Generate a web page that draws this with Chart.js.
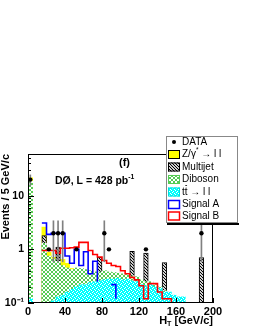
<!DOCTYPE html>
<html>
<head>
<meta charset="utf-8">
<script src="https://cdn.jsdelivr.net/npm/chart.js@4.4.1/dist/chart.umd.min.js"></script>
<style>
  html, body { margin: 0; padding: 0; background: #fff; }
  #box { position: relative; width: 255px; height: 330px; }
</style>
</head>
<body>
<div id="box"><canvas id="htChart" width="255" height="330"></canvas></div>
<script>
// H_T, bins of 5 GeV/c (low edges), last edge 200
const binLow = [0, 5, 10, 15, 20, 25, 30, 35, 40, 45, 50, 55, 60, 65, 70, 75, 80, 85, 90, 95,
                100, 105, 110, 115, 120, 125, 130, 135, 140, 145, 150, 155, 160, 165, 170, 175, 180, 185, 190, 195];
const binWidth = 5;
const lastEdge = 200;

// observed events
const dataCounts = [20, 0, 0, 0, 1, 2, 2, 2, 0, 0, 1, 0, 0, 0, 0, 0, 2, 1, 0, 0,
                    0, 0, 0, 0, 0, 1, 0, 0, 0, 0, 0, 0, 0, 0, 0, 0, 0, 2, 0, 0];

// backgrounds (stacked, bottom to top)
const ttbar    = [0.12, 0, 0, 0.10, 0.10, 0.11, 0.13, 0.14, 0.16, 0.18, 0.20, 0.22, 0.22, 0.24, 0.25, 0.26, 0.27, 0.28, 0.28, 0.29,
                  0.27, 0.28, 0.26, 0.25, 0.22, 0.21, 0.23, 0.20, 0.19, 0.16, 0.16, 0.14, 0.13, 0.13, 0, 0, 0.10, 0.10, 0, 0];
const diboson  = [18.5, 0, 0, 1.2, 0.65, 0.55, 0.47, 0.36, 0.29, 0.24, 0.25, 0.22, 0.20, 0.16, 0.13, 0.12, 0.13, 0.10, 0.09, 0.07,
                  0.08, 0.06, 0.06, 0.06, 0.05, 0.04, 0.02, 0.02, 0.01, 0.01, 0, 0, 0, 0, 0, 0, 0, 0, 0, 0];
const multijet = [0, 0, 0, 0.5, 0, 0, 0.5, 0, 0, 0, 0, 0, 0, 0, 0, 0.33, 0, 0, 0, 0,
                  0, 0, 0.6, 0, 0, 0.6, 0, 0, 0, 0.4, 0, 0, 0, 0, 0, 0, 0, 0.6, 0, 0];
const zJets    = [3.0, 0, 0, 0.8, 0.13, 0.05, 0, 0.15, 0.10, 0.02, 0, 0, 0, 0, 0, 0, 0, 0, 0, 0,
                  0, 0, 0, 0, 0, 0, 0, 0, 0, 0, 0, 0, 0, 0, 0, 0, 0, 0, 0, 0];

// signals (drawn as outlines)
const signalA  = [13, 0, 0, 3.1, 1.9, 2.0, 2.0, 2.0, 0.75, 0.55, 1.0, 0.5, 0.9, 0.35, 0.6, 0.25, 0, 0, 0.22, 0.12,
                  0, 0.12, 0, 0, 0, 0, 0, 0, 0, 0, 0, 0, 0, 0, 0, 0, 0, 0, 0, 0];
const signalB  = [2.1, 0, 0, 0.95, 0.95, 0.95, 0.85, 1.05, 1.05, 1.07, 1.1, 1.35, 1.35, 0.95, 0.8, 0.72, 0.62, 0.55, 0.5, 0.48,
                  0.4, 0.35, 0.3, 0.27, 0.21, 0.12, 0.23, 0.23, 0.16, 0.12, 0.12, 0.1, 0, 0, 0, 0, 0, 0, 0, 0];

const xTicks = [0, 40, 80, 120, 160, 200];
const yTicks = [0.1, 1, 10];
const yTickLabels = ['10\u207B\u00B9', '1', '10'];

const FONT = '"Liberation Sans", Arial, Helvetica, sans-serif';

// small repeating tiles for the ROOT-like hatch styles
function makePattern(bg, fg, pixels, size) {
    const c = document.createElement('canvas');
    c.width = size; c.height = size;
    const g = c.getContext('2d');
    g.fillStyle = bg;
    g.fillRect(0, 0, size, size);
    g.fillStyle = fg;
    pixels.forEach(p => g.fillRect(p[0], p[1], 1, 1));
    return g.createPattern(c, 'repeat');
}
const mjPattern = makePattern('#d0d0d0', '#000', [[0, 0], [1, 1], [2, 2]], 3);
const dbPattern = makePattern('#ffffff', '#55cc55', [[0, 0], [1, 1], [2, 2], [3, 3], [0, 3], [1, 2], [2, 1], [3, 0]], 4);
const ttPattern = makePattern('#00ffff', '#ffffff', [[0, 0], [2, 1], [1, 3], [3, 2]], 4);

// cumulative stack heights
const cumTT = ttbar.slice();
const cumDB = cumTT.map((v, i) => v + diboson[i]);
const cumMJ = cumDB.map((v, i) => v + multijet[i]);
const cumZ  = cumMJ.map((v, i) => v + zJets[i]);

const centres = binLow.map(v => v + binWidth / 2);
function layer(part, cum) {
    return centres.map((x, i) => ({ x: x, y: part[i] > 0 ? cum[i] : null }));
}
function steps(vals) {
    const pts = binLow.map((x, i) => ({ x: x, y: vals[i] }));
    pts.push({ x: lastEdge, y: vals[vals.length - 1] });
    return pts;
}
const dataPts = centres.map((x, i) => ({ x: x, y: dataCounts[i] > 0 ? dataCounts[i] : null }));
const errBars = [];
centres.forEach((x, i) => {
    const n = dataCounts[i];
    if (n > 0) errBars.push({ x: x, y: [Math.max(n - Math.sqrt(n), 0), n + Math.sqrt(n)] });
});

const barCommon = { type: 'bar', grouped: false, categoryPercentage: 1, barPercentage: 1, borderWidth: 0 };

// frame, inner ticks, titles and the legend box
const decorPlugin = {
    id: 'decor',
    afterDatasetsDraw(chart) {
        const { ctx, chartArea: a, scales: { x, y } } = chart;
        ctx.save();
        ctx.strokeStyle = '#000';
        ctx.lineWidth = 1;
        ctx.strokeRect(a.left + 0.5, a.top + 0.5, a.right - a.left - 1, a.bottom - a.top - 1);
        ctx.beginPath();
        xTicks.forEach(v => {
            const px = Math.round(x.getPixelForValue(v)) + 0.5;
            ctx.moveTo(px, a.bottom); ctx.lineTo(px, a.bottom - 5);
        });
        [0.1, 1, 10].forEach(d => {
            for (let k = 1; k <= 9; k++) {
                const v = d * k;
                if (v > y.max) break;
                const py = Math.round(y.getPixelForValue(v)) + 0.5;
                ctx.moveTo(a.left, py); ctx.lineTo(a.left + (k === 1 ? 6 : 3), py);
            }
        });
        ctx.stroke();
        ctx.restore();
    },
    afterDraw(chart) {
        const { ctx, chartArea: a } = chart;
        ctx.save();
        ctx.fillStyle = '#000';
        ctx.textBaseline = 'middle';

        // y title
        ctx.save();
        ctx.translate(6, a.top);
        ctx.rotate(-Math.PI / 2);
        ctx.textAlign = 'right';
        ctx.font = 'bold 11px ' + FONT;
        ctx.fillText('Events / 5 GeV/c', 0, 0);
        ctx.restore();

        // x title  H_T [GeV/c]
        ctx.textAlign = 'left';
        const xt = [{ t: 'H' }, { t: 'T', sub: true }, { t: ' [GeV/c]' }];
        const w = richWidth(ctx, xt, 11, 'bold');
        drawRich(ctx, xt, a.right - w, 321, 11, 'bold');

        // labels
        ctx.font = 'bold 11px ' + FONT;
        ctx.fillText('(f)', 119, 163);
        drawRich(ctx, [{ t: 'D\u00D8, L = 428 pb' }, { t: '-1', sup: true }], 55, 181, 10.5, 'bold');

        // legend
        const L = { x: 166, y: 136, w: 71, h: 86 };
        ctx.fillStyle = '#fff';
        ctx.fillRect(L.x, L.y, L.w, L.h);
        ctx.strokeStyle = '#888';
        ctx.lineWidth = 1;
        ctx.strokeRect(L.x + 0.5, L.y + 0.5, L.w, L.h);
        ctx.fillStyle = '#000';
        ctx.fillRect(L.x + 1, L.y + L.h + 1, L.w + 1, 2);

        const items = [
            { kind: 'dot', parts: [{ t: 'DATA' }] },
            { kind: 'fill', fill: '#ffff00', line: '#000', parts: [{ t: 'Z/\u03B3' }, { t: '*', sup: true }, { t: ' \u2192 l l' }] },
            { kind: 'fill', fill: mjPattern, line: '#000', parts: [{ t: 'Multijet' }] },
            { kind: 'fill', fill: dbPattern, line: '#55cc55', parts: [{ t: 'Diboson' }] },
            { kind: 'fill', fill: ttPattern, line: '#00dddd', parts: [{ t: 't' }, { t: 't', bar: true }, { t: ' \u2192 l l' }] },
            { kind: 'line', line: '#0000ff', parts: [{ t: 'Signal A' }] },
            { kind: 'line', line: '#ff0000', parts: [{ t: 'Signal B' }] }
        ];
        const rowY = [142, 154.5, 167, 179.5, 192, 204.5, 216];
        items.forEach((it, i) => {
            const yc = rowY[i];
            if (it.kind === 'dot') {
                ctx.fillStyle = '#000';
                ctx.beginPath();
                ctx.arc(174, yc, 2, 0, Math.PI * 2);
                ctx.fill();
            } else if (it.kind === 'fill') {
                ctx.fillStyle = it.fill;
                ctx.fillRect(168, yc - 4.5, 12, 9);
                ctx.strokeStyle = it.line;
                ctx.lineWidth = 1;
                ctx.strokeRect(168.5, yc - 4, 11, 8);
            } else {
                ctx.strokeStyle = it.line;
                ctx.lineWidth = 1.5;
                ctx.strokeRect(168.5, yc - 4, 11, 8);
            }
            ctx.fillStyle = '#000';
            drawRich(ctx, it.parts, 182, yc, 10, 'normal');
        });
        ctx.restore();
    }
};

function richWidth(ctx, parts, size, weight) {
    let w = 0;
    parts.forEach(p => {
        const s = (p.sup || p.sub) ? size * 0.65 : size;
        ctx.font = weight + ' ' + s + 'px ' + FONT;
        w += ctx.measureText(p.t).width;
    });
    return w;
}
function drawRich(ctx, parts, x, y, size, weight) {
    let cx = x;
    ctx.textAlign = 'left';
    parts.forEach(p => {
        const s = (p.sup || p.sub) ? size * 0.65 : size;
        ctx.font = weight + ' ' + s + 'px ' + FONT;
        const dy = p.sup ? -size * 0.38 : (p.sub ? size * 0.32 : 0);
        ctx.fillText(p.t, cx, y + dy);
        const w = ctx.measureText(p.t).width;
        if (p.bar) ctx.fillRect(cx + 0.5, y - size * 0.68, w - 1, 0.8);
        cx += w;
    });
}

new Chart(document.getElementById('htChart'), {
    type: 'bar',
    data: {
        datasets: [
            Object.assign({}, barCommon, { label: 'Z', data: layer(zJets, cumZ), backgroundColor: '#ffff00', order: 7 }),
            Object.assign({}, barCommon, { label: 'Multijet', data: layer(multijet, cumMJ), backgroundColor: mjPattern, borderColor: '#000', borderWidth: 1, borderSkipped: 'start', order: 6 }),
            Object.assign({}, barCommon, { label: 'Diboson', data: layer(diboson, cumDB), backgroundColor: dbPattern, order: 5 }),
            Object.assign({}, barCommon, { label: 'ttbar', data: layer(ttbar, cumTT), backgroundColor: ttPattern, order: 4 }),
            { type: 'line', label: 'Signal A', data: steps(signalA), stepped: 'before', borderColor: '#0000ff', borderWidth: 1.6, pointRadius: 0, fill: false, order: 3 },
            { type: 'line', label: 'Signal B', data: steps(signalB), stepped: 'before', borderColor: '#ff0000', borderWidth: 1.6, pointRadius: 0, fill: false, order: 2 },
            { type: 'bar', label: 'err', data: errBars, grouped: false, barThickness: 1, backgroundColor: '#808080', borderWidth: 0, order: 1 },
            { type: 'line', label: 'DATA', data: dataPts, showLine: false, pointRadius: 2.2, pointBackgroundColor: '#000', pointBorderWidth: 0, order: 0 }
        ]
    },
    options: {
        responsive: false,
        animation: false,
        devicePixelRatio: 1,
        layout: { padding: { top: 154, right: 42, left: 0, bottom: 0 } },
        plugins: { legend: { display: false }, tooltip: { enabled: false } },
        events: [],
        scales: {
            x: {
                type: 'linear', min: 0, max: lastEdge, offset: false,
                grid: { display: false, drawTicks: false },
                border: { display: false },
                afterBuildTicks: s => { s.ticks = xTicks.map(v => ({ value: v })); },
                afterFit: s => { s.height = 27; },
                ticks: { padding: 2, color: '#000', font: { family: FONT, size: 11, weight: 'bold' }, maxRotation: 0, autoSkip: false }
            },
            y: {
                type: 'logarithmic', min: 0.1, max: 60,
                grid: { display: false, drawTicks: false },
                border: { display: false },
                afterBuildTicks: s => { s.ticks = yTicks.map(v => ({ value: v })); },
                afterFit: s => { s.width = 28; },
                ticks: {
                    padding: 4, color: '#000', font: { family: FONT, size: 10.5, weight: 'bold' }, autoSkip: false,
                    callback: v => { const k = yTicks.indexOf(v); return k >= 0 ? yTickLabels[k] : ''; }
                }
            }
        }
    },
    plugins: [decorPlugin]
});
</script>
</body>
</html>
